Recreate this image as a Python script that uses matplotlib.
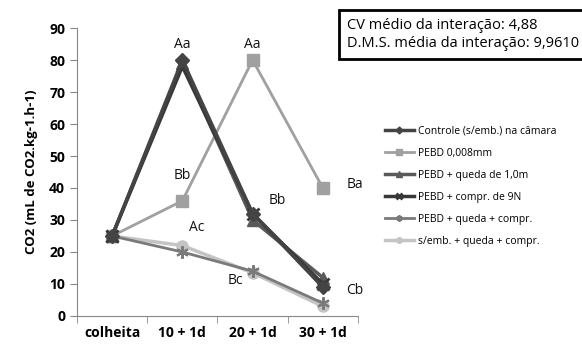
import matplotlib
matplotlib.use("Agg")
import matplotlib.pyplot as plt
import numpy as np

plt.rcParams['font.family'] = ['Open Sans', 'DejaVu Sans']

periodos = ['colheita', '10 + 1d', '20 + 1d', '30 + 1d']

controle = [25, 80, 32, 9]
pebd = [25, 36, 80, 40]
pebd_queda = [25, 79, 30, 12]
pebd_compr = [25, 78, 32, 10]
pebd_queda_compr = [25, 20, 14, 4]
semb_queda_compr = [25, 22, 13.5, 3]

nomes = ['Controle (s/emb.) na câmara', 'PEBD 0,008mm', 'PEBD + queda de 1,0m',
         'PEBD + compr. de 9N', 'PEBD + queda + compr.', 's/emb. + queda + compr.']

# letras de Tukey: (posição, valor, texto)
letras_x = [1, 2, 1, 3.45, 2.35, 1.2, 1.75, 3.45]
letras_y = [85, 85, 44, 41, 36, 27.5, 11, 8]
letras = ['Aa', 'Aa', 'Bb', 'Ba', 'Bb', 'Ac', 'Bc', 'Cb']

fig = plt.figure(figsize=(5.82, 3.48), dpi=100)
ax = fig.add_axes([0.1323, 0.092, 0.4828, 0.8275])
x = np.arange(len(periodos))

ax.plot(x, pebd, color='#a0a0a0', lw=2, marker='s', ms=8, label=nomes[1], zorder=2)
ax.plot(x, semb_queda_compr, color='#c4c4c4', lw=2.5, marker='o', ms=8, label=nomes[5], zorder=3)
ax.plot(x, pebd_queda_compr, color='#7a7a7a', lw=2, marker=(6, 2, 0), ms=9, mew=1.5, label=nomes[4], zorder=3)
ax.plot(x, pebd_queda, color='#5a5a5a', lw=2.5, marker='^', ms=8, label=nomes[2], zorder=4)
ax.plot(x, pebd_compr, color='#383838', lw=2.5, marker='x', ms=8, mew=2, label=nomes[3], zorder=4)
ax.plot(x, controle, color='#444444', lw=2.5, marker='D', ms=7, label=nomes[0], zorder=5)

for lx, ly, t in zip(letras_x, letras_y, letras):
    ax.text(lx, ly, t, ha='center', va='center', fontsize=10, color='#111111')

ax.set_xlim(-0.5, 3.5)
ax.set_ylim(0, 90)
ax.set_yticks(np.arange(0, 91, 10))
ax.set_xticks(x)
ax.set_xticklabels(periodos)
ax.set_xticks(np.arange(-0.5, 3.6, 1), minor=True)
ax.tick_params(axis='x', which='major', length=0, pad=7)
ax.tick_params(axis='x', which='minor', length=5, color='#888888')
ax.tick_params(axis='y', length=5, color='#888888')
for lab in ax.get_xticklabels() + ax.get_yticklabels():
    lab.set_fontweight('bold')
    lab.set_fontsize(10)
for s in ['top', 'right']:
    ax.spines[s].set_visible(False)
for s in ['left', 'bottom']:
    ax.spines[s].set_color('#888888')

ax.set_ylabel('CO2 (mL de CO2.kg-1.h-1)', fontsize=9.5, fontweight='bold', labelpad=8)

h, l = ax.get_legend_handles_labels()
ordem = [5, 0, 3, 4, 2, 1]
leg = fig.legend([h[i] for i in ordem], [l[i] for i in ordem], loc='upper left',
                 bbox_to_anchor=(0.645, 0.665), frameon=False, fontsize=7.5,
                 handlelength=2.8, labelspacing=1.05, handletextpad=0.4, markerscale=0.5)

fig.text(0.596, 0.90, 'CV médio da interação: 4,88\nD.M.S. média da interação: 9,9610',
         fontsize=10.5, va='center', ha='left', linespacing=1.3,
         bbox=dict(boxstyle='square,pad=0.55', fc='white', ec='black', lw=2))

fig.savefig('out.png', dpi=100)
